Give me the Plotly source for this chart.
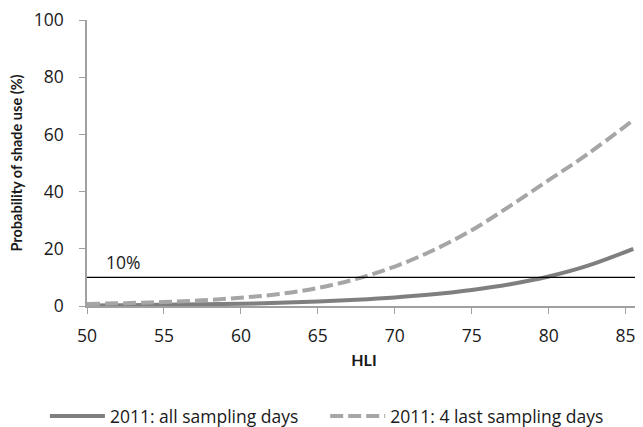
import plotly.graph_objects as go

hli = [50, 52.5, 55, 57.5, 60, 62.5, 65, 67.5, 70, 72.5, 75, 77.5, 80, 82.5, 85.5]
all_days = [0.2, 0.3, 0.4, 0.6, 0.8, 1.1, 1.6, 2.2, 3.0, 4.1, 5.6, 7.6, 10.3, 14.0, 20.0]
last4_days = [0.7, 1.0, 1.4, 2.0, 2.9, 4.2, 6.3, 9.5, 13.8, 19.5, 26.5, 35.0, 44.0, 53.0, 65.0]
threshold = 10
x_ticks = [50, 55, 60, 65, 70, 75, 80, 85]
y_ticks = [0, 20, 40, 60, 80, 100]

FONT = "'Open Sans', Lato, sans-serif"
TFONT = "Lato, 'Open Sans', sans-serif"
TXT = "#1a1a1a"
FS = 17.5

fig = go.Figure()
fig.add_trace(go.Scatter(x=hli, y=all_days, mode="lines", name="2011: all sampling days",
                         line=dict(color="#7f7f7f", width=4, shape="spline"), legend="legend"))
fig.add_trace(go.Scatter(x=hli, y=last4_days, mode="lines", name="2011: 4 last sampling days",
                         line=dict(color="#a6a6a6", width=4, dash="13px,5px", shape="spline"),
                         legend="legend2"))

fig.add_shape(type="line", xref="paper", yref="y", x0=0, x1=1, y0=threshold, y1=threshold,
              line=dict(color="#000000", width=1.2))
fig.add_annotation(x=51.1, y=threshold, xref="x", yref="y", text="10%", showarrow=False,
                   xanchor="left", yanchor="bottom", yshift=1,
                   font=dict(family=FONT, size=FS, color=TXT))

leg_common = dict(orientation="h", xanchor="left", y=-0.385, yanchor="middle",
                  font=dict(family=FONT, size=FS, color=TXT), itemwidth=55)

# page has an 8px body margin; figure is sized so that it fits the 643x427 window
fig.update_layout(
    width=635, height=419,
    margin=dict(l=79, r=2, t=12, b=121, autoexpand=False),
    plot_bgcolor="white", paper_bgcolor="white",
    font=dict(family=FONT, size=FS, color=TXT),
    showlegend=True,
    legend=dict(x=-0.076, **leg_common),
    legend2=dict(x=0.43, **leg_common),
)
fig.update_xaxes(range=[50, 86], tickvals=x_ticks, showline=True, linecolor="#a0a0a0", linewidth=1.5,
                 ticks="outside", tickcolor="#a0a0a0", ticklen=6, showgrid=False, zeroline=False,
                 automargin=False, ticklabelstandoff=7, ticklabeloverflow="allow",
                 title=dict(text="<b>HLI</b>", font=dict(family=TFONT, size=16), standoff=9))
fig.update_yaxes(range=[0, 100], tickvals=y_ticks, showline=True, linecolor="#a0a0a0", linewidth=1.5,
                 ticks="outside", tickcolor="#a0a0a0", ticklen=6, showgrid=False, zeroline=False,
                 automargin=False, ticklabelstandoff=12, ticklabeloverflow="allow",
                 title=dict(text="<b>Probability of shade use (%)</b>", font=dict(family=TFONT, size=14.5), standoff=8))

fig.write_html("out.html")
